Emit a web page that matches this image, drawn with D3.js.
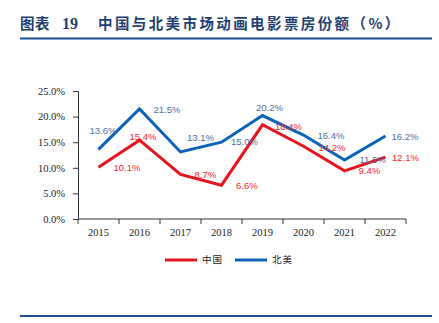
<!DOCTYPE html>
<html>
<head>
<meta charset="utf-8">
<script src="https://cdn.jsdelivr.net/npm/d3@7/dist/d3.min.js"></script>
<style>
  html, body { margin: 0; padding: 0; background: #fff; }
  svg { display: block; }
</style>
</head>
<body>
<svg id="chart" width="439" height="323"></svg>
<script>
// Animated-film share of total box office, China vs North America
const years = ["2015", "2016", "2017", "2018", "2019", "2020", "2021", "2022"];
const chinaShare = [10.1, 15.4, 8.7, 6.6, 18.4, 14.2, 9.4, 12.1];
const naShare = [13.6, 21.5, 13.1, 15.0, 20.2, 16.4, 11.5, 16.2];
const yTicks = [0, 5, 10, 15, 20, 25];
const seriesNames = ["中国", "北美"];

// Value-label nudges (px from each point to the label's left edge / middle)
const chinaLabelDx = [15, -10, 14, 14.5, 12.5, 15, 14, 6.5];
const chinaLabelDy = [0.5, -3, 0.5, 0.7, 1.4, 1.3, 0, 0.3];
const naLabelDx = [-9, 14, 6.5, 9.5, -6.5, 14, 15, 6];
const naLabelDy = [-19, 0.3, -14, -1, -8.4, 0.7, 0, 0.7];

(function () {
const svg = d3.select("#chart");
const navy = "#1f3f73";

// Heading and rules
svg.append("text").attr("x", 20).attr("y", 29)
  .attr("font-family", "Noto Sans CJK SC").attr("font-weight", "bold")
  .attr("font-size", 14.5).attr("fill", navy).attr("letter-spacing", 0.5)
  .text("图表");
svg.append("text").attr("x", 62).attr("y", 29)
  .attr("font-family", "Liberation Serif").attr("font-weight", "bold")
  .attr("font-size", 16).attr("fill", navy)
  .text("19");
svg.append("text").attr("x", 98).attr("y", 29)
  .attr("font-family", "Noto Sans CJK SC").attr("font-weight", "bold")
  .attr("font-size", 14.5).attr("fill", navy).attr("letter-spacing", 2.4)
  .text("中国与北美市场动画电影票房份额（%）");
svg.append("line").attr("x1", 20).attr("x2", 432).attr("y1", 38.5).attr("y2", 38.5)
  .attr("stroke", "#1d4f91").attr("stroke-width", 2);
svg.append("line").attr("x1", 20).attr("x2", 432).attr("y1", 316).attr("y2", 316)
  .attr("stroke", "#1d4f91").attr("stroke-width", 2);

// Plot frame
const plotL = 78, plotR = 406, plotT = 91, plotB = 219;
const x = d3.scaleBand().domain(years).range([plotL, plotR]);
const y = d3.scaleLinear().domain([0, 25]).range([plotB, plotT]);
const cx = d => x(d) + x.bandwidth() / 2;

// y axis
const yAxis = svg.append("g").attr("transform", `translate(${plotL},0)`)
  .call(d3.axisLeft(y).tickValues(yTicks).tickSize(5).tickPadding(8)
    .tickFormat(d => d3.format(".1f")(d) + "%"));
yAxis.selectAll("text").attr("font-family", "Liberation Serif")
  .attr("font-size", 10.5).attr("fill", "#222");
yAxis.selectAll("line, path").attr("stroke", "#333");

// x axis with ticks on category boundaries
const xAxis = svg.append("g").attr("transform", `translate(0,${plotB})`);
xAxis.append("line").attr("x1", plotL).attr("x2", plotR)
  .attr("stroke", "#333");
const bounds = years.map(d => x(d)).concat([plotR]);
xAxis.selectAll("line.tk").data(bounds).join("line").attr("class", "tk")
  .attr("x1", d => d).attr("x2", d => d).attr("y1", 0).attr("y2", 5)
  .attr("stroke", "#333");
xAxis.selectAll("text").data(years).join("text")
  .attr("x", d => cx(d)).attr("y", 17).attr("text-anchor", "middle")
  .attr("font-family", "Liberation Serif").attr("font-size", 10.5).attr("fill", "#222")
  .text(d => d);

const series = [
  { name: seriesNames[0], values: chinaShare, dx: chinaLabelDx, dy: chinaLabelDy, line: "#e5141e", label: "#f4262b" },
  { name: seriesNames[1], values: naShare, dx: naLabelDx, dy: naLabelDy, line: "#0b62b8", label: "#4d6ea3" }
];

const line = d3.line().x((d, i) => cx(years[i])).y(d => y(d));

// draw blue first so red sits on top
[series[1], series[0]].forEach(s => {
  svg.append("path").datum(s.values).attr("d", line)
    .attr("fill", "none").attr("stroke", s.line).attr("stroke-width", 3)
    .attr("stroke-linejoin", "miter");
});

series.forEach(s => {
  svg.selectAll(null).data(s.values).join("text")
    .attr("x", (d, i) => cx(years[i]) + s.dx[i])
    .attr("y", (d, i) => y(d) + s.dy[i])
    .attr("dy", "0.35em")
    .attr("font-family", "Liberation Sans").attr("font-size", 9.5)
    .attr("fill", s.label)
    .text(d => d.toFixed(1) + "%");
});

// legend
const legend = svg.append("g").attr("transform", "translate(165,260)");
series.forEach((s, i) => {
  const g = legend.append("g").attr("transform", `translate(${i * 70},0)`);
  g.append("line").attr("x1", 0).attr("x2", 32).attr("y1", 0).attr("y2", 0)
    .attr("stroke", s.line).attr("stroke-width", 3);
  g.append("text").attr("x", 37).attr("y", 0).attr("dy", "0.35em")
    .attr("font-family", "Noto Sans CJK SC").attr("font-size", 9.5)
    .attr("letter-spacing", 1).attr("fill", "#222")
    .text(s.name);
});
})();
</script>
</body>
</html>
